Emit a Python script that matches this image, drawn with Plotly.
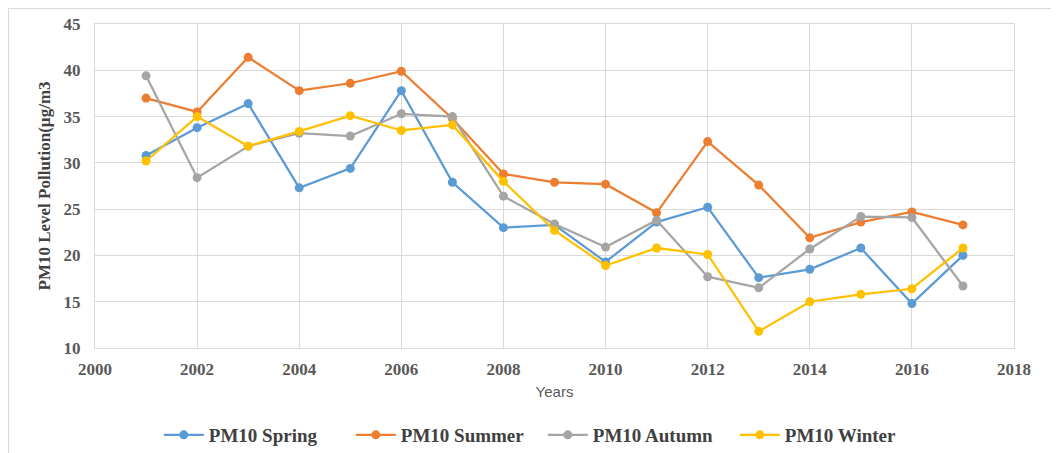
import plotly.graph_objects as go

years = list(range(2001, 2018))
spring = [30.8, 33.8, 36.4, 27.3, 29.4, 37.8, 27.9, 23.0, 23.3, 19.3, 23.6, 25.2, 17.6, 18.5, 20.8, 14.8, 20.0]
summer = [37.0, 35.5, 41.4, 37.8, 38.6, 39.9, 34.8, 28.8, 27.9, 27.7, 24.6, 32.3, 27.6, 21.9, 23.6, 24.7, 23.3]
autumn = [39.4, 28.4, 31.8, 33.2, 32.9, 35.3, 35.0, 26.4, 23.4, 20.9, 23.8, 17.7, 16.5, 20.7, 24.2, 24.1, 16.7]
winter = [30.2, 35.0, 31.8, 33.4, 35.1, 33.5, 34.1, 28.0, 22.7, 18.9, 20.8, 20.1, 11.8, 15.0, 15.8, 16.4, 20.8]

series = [
    ("PM10 Spring", spring, "#5B9BD5"),
    ("PM10 Summer", summer, "#ED7D31"),
    ("PM10 Autumn", autumn, "#A5A5A5"),
    ("PM10 Winter", winter, "#FFC000"),
]

fig = go.Figure()
for name, vals, col in series:
    fig.add_trace(go.Scatter(
        x=years, y=vals, name=name, mode="lines+markers",
        line=dict(color=col, width=2.25),
        marker=dict(color=col, size=9),
    ))

serif = "Liberation Serif, Times New Roman, serif"
fig.update_layout(
    width=1059, height=453,
    margin=dict(l=87, r=53, t=16, b=113, autoexpand=False),
    paper_bgcolor="white", plot_bgcolor="white",
    showlegend=True,
    legend=dict(orientation="h", x=0.505, xanchor="center", xref="container",
                y=0.0574, yanchor="middle", yref="container",
                font=dict(family=serif, size=19, color="#404040", weight="bold"),
                itemwidth=40, tracegroupgap=0, entrywidth=137),
    xaxis=dict(range=[2000, 2018], dtick=2, tick0=2000, automargin=False,
               showgrid=True, gridcolor="#D9D9D9", gridwidth=1,
               showline=True, linecolor="#D9D9D9", linewidth=1, mirror=True,
               zeroline=False, ticks="", ticklabelstandoff=6,
               tickfont=dict(family=serif, size=17, color="#595959", weight="bold"),
               title=dict(text="Years", font=dict(family="Liberation Sans, Arial, sans-serif", size=15, color="#595959"), standoff=8)),
    yaxis=dict(range=[10, 45], dtick=5, automargin=False,
               showgrid=True, gridcolor="#D9D9D9", gridwidth=1,
               showline=True, linecolor="#D9D9D9", linewidth=1, mirror=True,
               zeroline=False, ticks="", ticklabelstandoff=10,
               tickfont=dict(family=serif, size=17, color="#595959", weight="bold"),
               title=dict(text="PM10 Level Pollution(µg/m3", font=dict(family=serif, size=17, color="#404040", weight="bold"), standoff=8)),
    shapes=[
        dict(type="line", xref="paper", yref="paper", x0=-0.0941, x1=1.06, y0=1.0478, y1=1.0478,
             line=dict(color="#D9D9D9", width=1)),
        dict(type="line", xref="paper", yref="paper", x0=-0.0941, x1=-0.0941, y0=1.0478, y1=-0.349,
             line=dict(color="#D9D9D9", width=1)),
    ],
)

fig.write_html("out.html")
